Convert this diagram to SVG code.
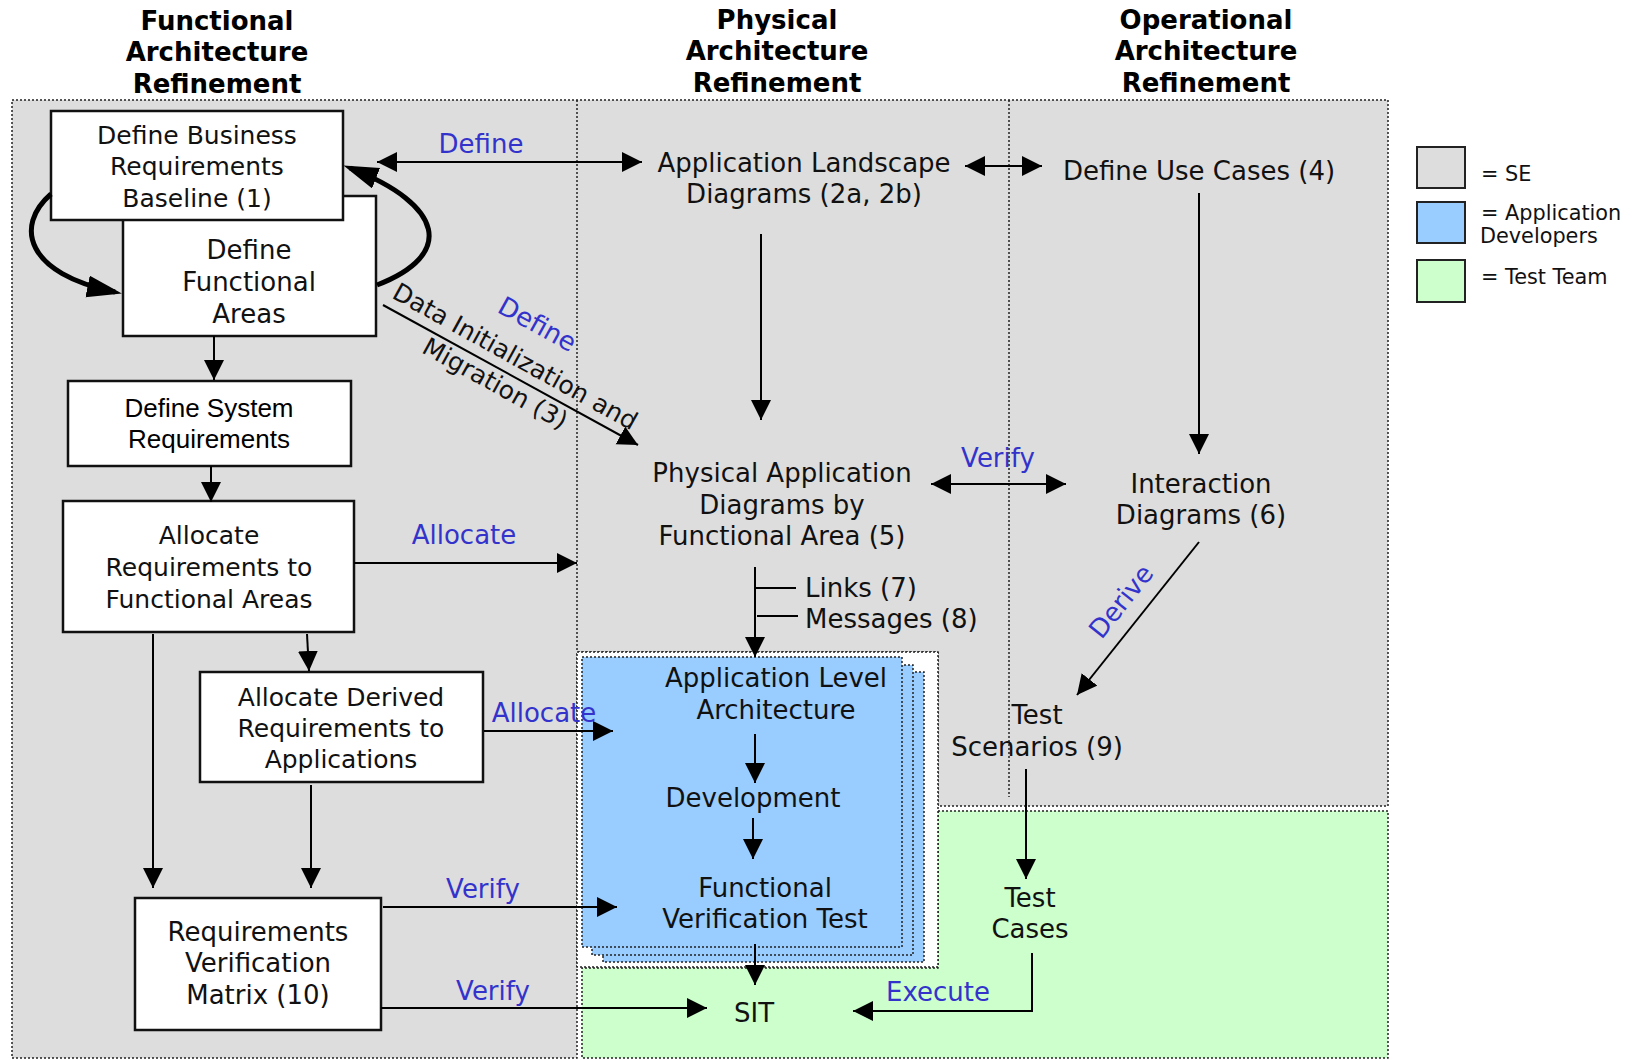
<svg xmlns="http://www.w3.org/2000/svg" width="1638" height="1060" viewBox="0 0 1638 1060">
<style>
.t{font-family:"DejaVu Sans",Verdana,sans-serif;font-size:26px;fill:#111;text-anchor:middle}
.b{font-size:25px}
.h{font-family:"DejaVu Sans",Verdana,sans-serif;font-size:26px;font-weight:bold;fill:#000;text-anchor:middle}
.a{font-family:"Liberation Sans",Arial,sans-serif;font-size:26px;fill:#000;text-anchor:middle}
.lb{font-family:"DejaVu Sans",Verdana,sans-serif;font-size:26px;fill:#3333CC;text-anchor:middle}
.lg{font-family:"DejaVu Sans",Verdana,sans-serif;font-size:20.8px;fill:#111}
.box{fill:#fff;stroke:#111;stroke-width:2.5}
.dot{stroke:#222;stroke-width:1.5;stroke-dasharray:2 2}
.ln{fill:none;stroke:#000;stroke-width:2}
.ar{fill:none;stroke:#000;stroke-width:2;marker-end:url(#ah)}
.dar{fill:none;stroke:#000;stroke-width:2;marker-end:url(#ah);marker-start:url(#ah)}
.thick{fill:none;stroke:#000;stroke-width:5;marker-end:url(#big)}
</style>
<defs>
<marker id="ah" markerUnits="userSpaceOnUse" markerWidth="22" markerHeight="22" refX="20" refY="10" orient="auto-start-reverse" viewBox="0 0 22 22">
<path d="M0,0 L20,10 L0,20 z" fill="#000"/>
</marker>
<marker id="big" markerUnits="userSpaceOnUse" markerWidth="36" markerHeight="24" refX="28" refY="11" orient="auto" viewBox="0 0 36 24">
<path d="M0,0 L35,11 L0,22 z" fill="#000"/>
</marker>
</defs>

<g id="regions">
<polygon points="12,100 1388,100 1388,806 938,806 938,652 577,652 577,1058 12,1058" fill="#DDDDDD" class="dot"/>
<polygon points="938,811 1388,811 1388,1058 582,1058 582,968 938,968" fill="#CCFFCC" class="dot"/>
<rect x="577" y="652" width="361" height="315" fill="#fff" class="dot"/>
<line x1="577" y1="100" x2="577" y2="652" class="dot"/>
<line x1="1009" y1="100" x2="1009" y2="797" class="dot"/>
<rect x="603" y="672" width="321" height="290" fill="#99CCFF" class="dot"/>
<rect x="592" y="665" width="321" height="290" fill="#99CCFF" class="dot"/>
<rect x="582" y="657" width="320" height="290" fill="#99CCFF" class="dot"/>
</g>

<g id="headers">
<text class="h" x="217" y="30">Functional</text>
<text class="h" x="217" y="61">Architecture</text>
<text class="h" x="217" y="93">Refinement</text>
<text class="h" x="777" y="29">Physical</text>
<text class="h" x="777" y="60">Architecture</text>
<text class="h" x="777" y="92">Refinement</text>
<text class="h" x="1206" y="29">Operational</text>
<text class="h" x="1206" y="60">Architecture</text>
<text class="h" x="1206" y="92">Refinement</text>
</g>

<g id="n2">
<rect x="123" y="196" width="253" height="140" class="box"/>
<text class="t" x="249" y="259">Define</text>
<text class="t" x="249" y="291">Functional</text>
<text class="t" x="249" y="323">Areas</text>
</g>
<g id="n1">
<rect x="51" y="111" width="292" height="109" class="box"/>
<text class="t b" x="197" y="144">Define Business</text>
<text class="t b" x="197" y="175">Requirements</text>
<text class="t b" x="197" y="207">Baseline (1)</text>
</g>
<g id="n3">
<rect x="68" y="381" width="283" height="85" class="box"/>
<text class="a" x="209" y="417">Define System</text>
<text class="a" x="209" y="448">Requirements</text>
</g>
<g id="n4">
<rect x="63" y="501" width="291" height="131" class="box"/>
<text class="t b" x="209" y="544">Allocate</text>
<text class="t b" x="209" y="576">Requirements to</text>
<text class="t b" x="209" y="608">Functional Areas</text>
</g>
<g id="n5">
<rect x="200" y="672" width="283" height="110" class="box"/>
<text class="t b" x="341" y="706">Allocate Derived</text>
<text class="t b" x="341" y="737">Requirements to</text>
<text class="t b" x="341" y="768">Applications</text>
</g>
<g id="n6">
<rect x="135" y="898" width="246" height="132" class="box"/>
<text class="t" x="258" y="941">Requirements</text>
<text class="t" x="258" y="972">Verification</text>
<text class="t" x="258" y="1004">Matrix (10)</text>
</g>
<g id="n7">
<text class="t" x="804" y="172">Application Landscape</text>
<text class="t" x="804" y="203">Diagrams (2a, 2b)</text>
</g>
<g id="n8">
<text class="t" x="1199" y="180">Define Use Cases (4)</text>
</g>
<g id="n9">
<text class="t" x="782" y="482">Physical Application</text>
<text class="t" x="782" y="514">Diagrams by</text>
<text class="t" x="782" y="545">Functional Area (5)</text>
</g>
<g id="n10">
<text class="t" x="1201" y="493">Interaction</text>
<text class="t" x="1201" y="524">Diagrams (6)</text>
</g>
<g id="n11">
<text class="t" x="1037" y="724">Test</text>
<text class="t" x="1037" y="756">Scenarios (9)</text>
</g>
<g id="n12">
<text class="t" x="1030" y="907">Test</text>
<text class="t" x="1030" y="938">Cases</text>
</g>
<g id="n13">
<text class="t" x="776" y="687">Application Level</text>
<text class="t" x="776" y="719">Architecture</text>
</g>
<g id="n14">
<text class="t" x="753" y="807">Development</text>
</g>
<g id="n15">
<text class="t" x="765" y="897">Functional</text>
<text class="t" x="765" y="928">Verification Test</text>
</g>
<g id="n16">
<text class="t" x="754" y="1022">SIT</text>
</g>
<g id="n17">
<text class="t" x="805" y="597" style="text-anchor:start">Links (7)</text>
<text class="t" x="805" y="628" style="text-anchor:start">Messages (8)</text>
</g>

<g id="connectors">
<path class="thick" d="M51,194 C14,226 26,274 115,292"/>
<path class="thick" d="M377,285 C455,255 445,205 350,168"/>
<line class="dar" x1="377" y1="162" x2="642" y2="162"/>
<line class="dar" x1="965" y1="166" x2="1042" y2="166"/>
<line class="ar" x1="761" y1="234" x2="761" y2="420"/>
<line class="ar" x1="1199" y1="193" x2="1199" y2="454"/>
<line class="ar" x1="383" y1="305" x2="638" y2="445"/>
<line class="dar" x1="931" y1="484" x2="1066" y2="484"/>
<line class="ar" x1="1199" y1="542" x2="1077" y2="695"/>
<line class="ar" x1="755" y1="567" x2="755" y2="657"/>
<line class="ln" x1="755" y1="588" x2="796" y2="588"/>
<line class="ln" x1="757" y1="616" x2="798" y2="616"/>
<line class="ar" x1="214" y1="336" x2="214" y2="380"/>
<line class="ar" x1="211" y1="466" x2="211" y2="502"/>
<line class="ar" x1="354" y1="563" x2="577" y2="563"/>
<line class="ar" x1="153" y1="634" x2="153" y2="888"/>
<line class="ar" x1="307" y1="634" x2="309" y2="671"/>
<line class="ar" x1="311" y1="785" x2="311" y2="888"/>
<line class="ar" x1="484" y1="731" x2="613" y2="731"/>
<line class="ar" x1="383" y1="907" x2="617" y2="907"/>
<line class="ar" x1="381" y1="1008" x2="707" y2="1008"/>
<line class="ar" x1="755" y1="734" x2="755" y2="783"/>
<line class="ar" x1="753" y1="818" x2="753" y2="859"/>
<line class="ar" x1="755" y1="944" x2="755" y2="985"/>
<line class="ar" x1="1026" y1="769" x2="1026" y2="879"/>
<polyline class="ar" points="1032,953 1032,1011 853,1011"/>
</g>

<g id="labels">
<text class="lb" x="481" y="153">Define</text>
<text class="lb" transform="translate(533,332) rotate(29)" x="0" y="0">Define</text>
<text class="t b" transform="translate(511,364) rotate(29)" x="0" y="0">Data Initialization and</text>
<text class="t b" transform="translate(491,391) rotate(29)" x="0" y="0">Migration (3)</text>
<text class="lb" x="998" y="467">Verify</text>
<text class="lb" transform="translate(1128,607) rotate(-51.4)" x="0" y="0">Derive</text>
<text class="lb" x="464" y="544">Allocate</text>
<text class="lb" x="544" y="722">Allocate</text>
<text class="lb" x="483" y="898">Verify</text>
<text class="lb" x="493" y="1000">Verify</text>
<text class="lb" x="938" y="1001">Execute</text>
</g>

<g id="legend">
<rect x="1417" y="147" width="48" height="41" fill="#DDDDDD" stroke="#222" stroke-width="2"/>
<rect x="1417" y="202" width="48" height="41" fill="#99CCFF" stroke="#222" stroke-width="2"/>
<rect x="1417" y="260" width="48" height="42" fill="#CCFFCC" stroke="#222" stroke-width="2"/>
<text class="lg" x="1481" y="181">= SE</text>
<text class="lg" x="1481" y="220">= Application</text>
<text class="lg" x="1480" y="243">Developers</text>
<text class="lg" x="1481" y="284">= Test Team</text>
</g>
</svg>
